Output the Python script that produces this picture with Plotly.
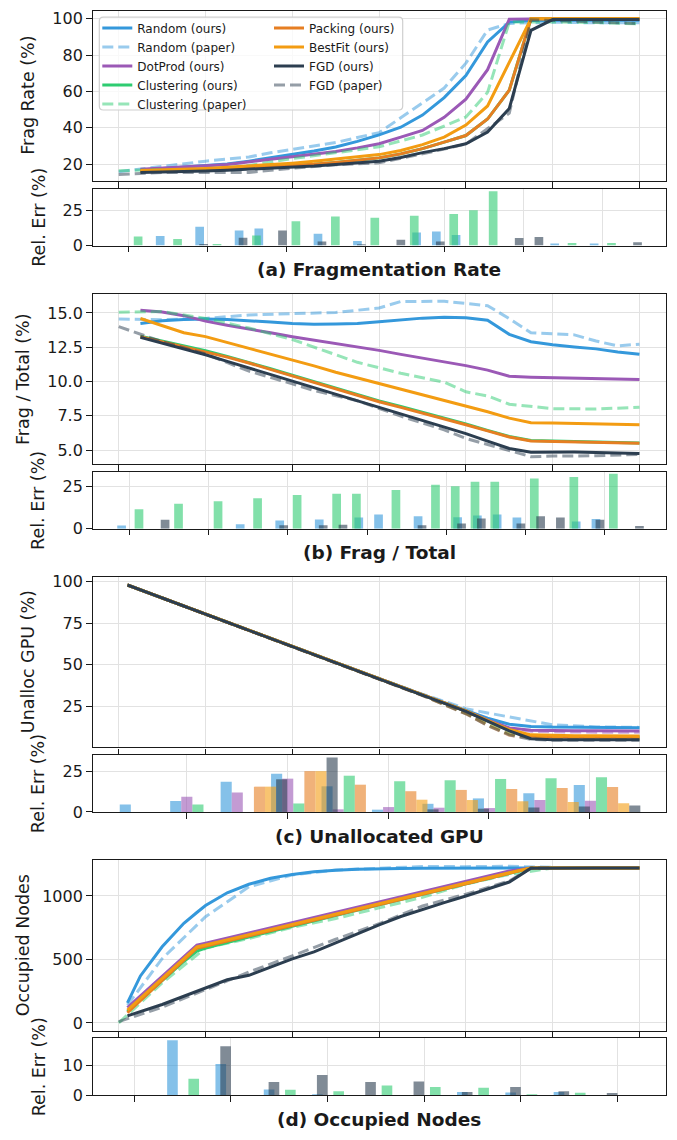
import plotly.graph_objects as go

W, H = 677, 1140
FONT = "DejaVu Sans"

STRATEGIES = ["Random", "DotProd", "Clustering", "Packing", "BestFit", "FGD"]
COLORS = {"Random": "#3498db", "DotProd": "#9b59b6", "Clustering": "#2ecc71",
          "Packing": "#e67e22", "BestFit": "#f39c12", "FGD": "#2c3e50"}

MAIN_XTICKS = [0.0, 0.2, 0.4, 0.6, 0.8, 1.0, 1.2]

# ---------------- (a) Fragmentation Rate ----------------
a_x_ours = [0.05, 0.10, 0.15, 0.20, 0.25, 0.30, 0.35, 0.40, 0.45, 0.50, 0.55, 0.60,
            0.65, 0.70, 0.75, 0.80, 0.85, 0.90, 0.95, 1.00, 1.05, 1.10, 1.15, 1.20]
a_random_ours = [16.7, 17.6, 18.4, 19.1, 20.0, 21.6, 23.4, 25.2, 27.2, 29.4, 32.5, 36.1,
                 40.3, 47.0, 56.6, 68.7, 87.3, 98.2, 99.1, 99.2, 99.3, 99.3, 99.3, 99.3]
a_dotprod_ours = [17.1, 17.6, 18.3, 19.0, 19.8, 21.0, 22.6, 24.0, 25.4, 26.9, 28.9, 31.2,
                  34.8, 38.5, 45.7, 55.7, 72.0, 99.8, 99.9, 99.9, 99.9, 99.9, 99.9, 99.9]
a_clustering_ours = [16.0, 16.2, 16.4, 16.7, 17.2, 17.8, 18.4, 19.1, 19.9, 20.9, 22.1, 23.4,
                     25.6, 28.5, 32.1, 35.7, 44.8, 60.7, 100, 100, 100, 100, 100, 100]
a_packing_ours = [16.0, 16.2, 16.4, 16.7, 17.2, 17.8, 18.4, 19.1, 19.9, 20.9, 22.1, 23.4,
                  25.6, 28.5, 32.1, 35.7, 44.8, 60.7, 100, 100, 100, 100, 100, 100]
a_bestfit_ours = [16.4, 16.7, 17.1, 17.6, 18.2, 18.9, 19.7, 20.5, 21.5, 22.7, 23.9, 25.2,
                  27.5, 30.7, 34.8, 41.5, 52.0, 75.6, 100, 100, 100, 100, 100, 100]
a_fgd_ours = [15.3, 15.5, 15.8, 16.2, 16.6, 17.1, 17.6, 18.2, 18.9, 19.8, 20.6, 21.6,
              23.6, 26.3, 28.5, 31.2, 37.6, 50.6, 93.7, 99.6, 99.7, 99.7, 99.7, 99.7]

a_random_paper_x = [0, 0.1, 0.2, 0.3, 0.35, 0.5, 0.6, 0.75, 0.8, 0.85, 0.9, 1.0, 1.1, 1.2]
a_random_paper = [15.8, 18.8, 21.6, 23.9, 26.2, 31.9, 37.3, 61.9, 75.6, 93.8, 97.5, 98.2, 97.8, 97.9]
a_clustering_paper_x = [0, 0.1, 0.2, 0.3, 0.4, 0.5, 0.6, 0.7, 0.8, 0.85, 0.9, 1.0, 1.1, 1.2]
a_clustering_paper = [16.3, 17.0, 16.9, 19.2, 23.0, 26.3, 29.5, 36.0, 45.9, 59.5, 98.2, 98.3, 98.0, 97.2]
a_fgd_paper_x = [0, 0.1, 0.2, 0.3, 0.4, 0.5, 0.6, 0.7, 0.8, 0.9, 0.95, 1.0, 1.1, 1.2]
a_fgd_paper = [14.3, 15.3, 15.3, 15.4, 17.7, 19.6, 20.7, 25.6, 31.0, 48.0, 99.5, 99.0, 98.4, 97.4]

a_err_random_x = [0.1, 0.2, 0.3, 0.35, 0.5, 0.6, 0.75, 0.8, 0.85, 1.1, 1.2]
a_err_random = [6.8, 13.3, 10.7, 12.1, 8.4, 3.3, 9.3, 10.0, 7.5, 1.4, 1.4]
a_err_clustering_x = [0, 0.1, 0.2, 0.3, 0.4, 0.5, 0.6, 0.7, 0.8, 0.85, 0.9, 1.1, 1.2]
a_err_clustering = [6.5, 4.7, 1.2, 7.2, 17.1, 20.6, 19.6, 21.0, 22.2, 25.0, 38.3, 1.9, 1.9]
a_err_fgd_x = [0.1, 0.2, 0.3, 0.4, 0.5, 0.6, 0.7, 0.9, 0.95, 1.2]
a_err_fgd = [1.2, 5.6, 10.7, 2.8, 0.9, 4.2, 2.8, 5.4, 6.1, 2.3]

# ---------------- (b) Frag / Total ----------------
b_x_ours = a_x_ours
b_random_ours = [14.23, 14.42, 14.52, 14.55, 14.52, 14.45, 14.33, 14.22, 14.18, 14.20, 14.23, 14.35,
                 14.50, 14.62, 14.68, 14.64, 14.47, 13.44, 12.90, 12.68, 12.52, 12.38, 12.15, 11.98]
b_dotprod_ours = [15.19, 15.07, 14.80, 14.40, 14.10, 13.85, 13.55, 13.27, 13.03, 12.80, 12.53, 12.27,
                  11.98, 11.71, 11.44, 11.16, 10.83, 10.38, 10.32, 10.28, 10.25, 10.21, 10.18, 10.14]
b_clustering_ours = [13.30, 12.95, 12.60, 12.25, 11.83, 11.40, 10.93, 10.46, 9.98, 9.50, 9.04, 8.59,
                     8.18, 7.77, 7.33, 6.90, 6.44, 6.00, 5.70, 5.66, 5.62, 5.59, 5.55, 5.52]
b_packing_ours = [13.27, 12.90, 12.55, 12.20, 11.78, 11.35, 10.88, 10.40, 9.92, 9.44, 8.98, 8.53,
                  8.12, 7.71, 7.28, 6.85, 6.40, 5.96, 5.67, 5.64, 5.60, 5.57, 5.53, 5.50]
b_bestfit_ours = [14.59, 14.05, 13.56, 13.27, 12.85, 12.43, 12.00, 11.60, 11.14, 10.68, 10.27, 9.87,
                  9.48, 9.08, 8.66, 8.24, 7.80, 7.33, 7.00, 6.98, 6.95, 6.92, 6.88, 6.85]
b_fgd_ours = [13.22, 12.80, 12.38, 11.95, 11.47, 10.99, 10.52, 10.04, 9.56, 9.08, 8.60, 8.12,
              7.64, 7.16, 6.68, 6.20, 5.66, 5.12, 4.85, 4.87, 4.86, 4.83, 4.80, 4.76]

b_random_paper_x = [0, 0.1, 0.2, 0.3, 0.4, 0.5, 0.6, 0.65, 0.75, 0.85, 0.9, 0.95, 1.05, 1.1, 1.15, 1.2]
b_random_paper = [14.55, 14.50, 14.60, 14.85, 14.95, 15.03, 15.36, 15.83, 15.85, 15.53, 14.58, 13.55,
                  13.40, 12.95, 12.60, 12.72]
b_clustering_paper_x = [0, 0.1, 0.2, 0.3, 0.4, 0.5, 0.55, 0.65, 0.75, 0.8, 0.85, 0.9, 1.0, 1.1, 1.2]
b_clustering_paper = [15.05, 15.10, 14.60, 13.90, 13.06, 11.98, 11.40, 10.60, 9.95, 9.25, 8.95, 8.35,
                      8.02, 8.00, 8.12]
b_fgd_paper_x = [0, 0.1, 0.2, 0.3, 0.4, 0.45, 0.55, 0.65, 0.75, 0.8, 0.9, 0.95, 1.0, 1.1, 1.2]
b_fgd_paper = [14.0, 12.9, 12.0, 10.76, 9.83, 9.35, 8.6, 7.48, 6.48, 5.85, 4.97, 4.52, 4.57, 4.59, 4.69]

b_err_random_x = [0, 0.3, 0.4, 0.5, 0.6, 0.65, 0.75, 0.85, 0.9, 0.95, 1.0, 1.15, 1.2]
b_err_random = [2.0, 2.7, 4.9, 5.5, 6.6, 8.4, 7.4, 6.8, 7.8, 8.4, 6.6, 4.3, 5.7]
b_err_clustering_x = [0, 0.1, 0.2, 0.3, 0.4, 0.5, 0.55, 0.65, 0.75, 0.8, 0.85, 0.9, 1.0, 1.1, 1.2]
b_err_clustering = [11.5, 14.8, 16.2, 18.0, 19.9, 20.7, 20.7, 22.9, 26.0, 25.0, 27.7, 27.7, 29.7, 30.5, 32.4]
b_err_fgd_x = [0, 0.3, 0.4, 0.45, 0.65, 0.75, 0.8, 0.9, 0.95, 1.0, 1.1, 1.2]
b_err_fgd = [5.3, 2.1, 2.1, 2.3, 2.1, 3.1, 6.0, 3.1, 7.4, 6.6, 5.3, 1.6]

# ---------------- (c) Unallocated GPU ----------------
c_x_ours = [0.02, 0.1, 0.2, 0.3, 0.4, 0.5, 0.6, 0.7, 0.8, 0.85, 0.9, 0.95, 1.0, 1.05, 1.1, 1.15, 1.2]
c_random_ours = [98.1, 90.3, 80.5, 70.8, 61.1, 51.4, 41.7, 32.0, 22.6, 17.8, 14.2, 12.9, 12.5, 12.3, 12.2, 12.2, 12.1]
c_dotprod_ours = [98.1, 90.3, 80.5, 70.8, 61.1, 51.4, 41.6, 31.9, 22.3, 16.8, 12.0, 10.6, 10.3, 10.2, 10.2, 10.1, 10.1]
c_clustering_ours = [98.1, 90.3, 80.5, 70.8, 61.1, 51.4, 41.6, 31.9, 22.1, 16.4, 10.8, 7.2, 6.8, 6.7, 6.7, 6.6, 6.6]
c_packing_ours = [98.1, 90.3, 80.5, 70.8, 61.1, 51.4, 41.6, 31.9, 22.1, 16.3, 10.6, 7.0, 6.5, 6.4, 6.4, 6.3, 6.3]
c_bestfit_ours = [98.1, 90.3, 80.5, 70.8, 61.1, 51.4, 41.6, 31.9, 22.2, 16.5, 11.0, 7.8, 7.3, 7.2, 7.2, 7.1, 7.1]
c_fgd_ours = [98.1, 90.3, 80.5, 70.8, 61.1, 51.4, 41.6, 31.9, 22.0, 16.0, 10.2, 5.5, 4.9, 4.8, 4.8, 4.8, 4.8]

c_x_paper = [0.1, 0.2, 0.3, 0.4, 0.5, 0.6, 0.7, 0.8, 0.85, 0.9, 0.95, 1.0, 1.1, 1.2]
c_random_paper = [90.3, 80.5, 70.8, 61.1, 51.4, 41.7, 32.3, 23.6, 21.0, 18.5, 16.0, 13.8, 12.6, 12.3]
c_dotprod_paper = [90.3, 80.5, 70.8, 61.1, 51.4, 41.6, 31.9, 22.0, 16.2, 11.6, 10.0, 9.6, 9.4, 9.3]
c_clustering_paper = [90.3, 80.5, 70.8, 61.1, 51.4, 41.6, 31.9, 21.0, 14.5, 8.5, 6.0, 5.6, 5.5, 5.4]
c_packing_paper = [90.3, 80.5, 70.8, 61.1, 51.4, 41.6, 31.6, 20.5, 13.5, 7.5, 5.9, 5.7, 5.6, 5.6]
c_bestfit_paper = [90.3, 80.5, 70.8, 61.1, 51.4, 41.6, 31.7, 20.8, 14.0, 8.3, 6.8, 6.7, 6.6, 6.6]
c_fgd_paper = [90.3, 80.5, 70.8, 61.1, 51.4, 41.6, 31.5, 20.5, 13.5, 7.8, 5.0, 4.6, 4.5, 4.5]

c_err_random_x = [0.1, 0.2, 0.3, 0.4, 0.5, 0.6, 0.7, 0.8, 0.9, 1.0]
c_err_random = [4.6, 6.7, 18.5, 23.4, 15.7, 1.4, 5.0, 8.3, 11.5, 16.5]
c_err_dotprod_x = [0.2, 0.3, 0.4, 0.5, 0.6, 0.7, 0.8, 0.9, 1.0]
c_err_dotprod = [9.3, 11.9, 20.4, 1.6, 3.0, 2.6, 2.4, 7.3, 6.9]
c_err_clustering_x = [0.2, 0.4, 0.5, 0.6, 0.7, 0.8, 0.9, 1.0]
c_err_clustering = [4.6, 5.2, 22.2, 18.8, 19.4, 20.2, 20.6, 21.2]
c_err_packing_x = [0.3, 0.4, 0.5, 0.6, 0.7, 0.8, 0.9, 1.0]
c_err_packing = [15.5, 25.0, 16.7, 12.7, 13.5, 14.1, 14.7, 15.3]
c_err_bestfit_x = [0.3, 0.4, 0.6, 0.7, 0.8, 0.9, 1.0]
c_err_bestfit = [15.5, 25.0, 7.5, 7.3, 6.6, 6.1, 5.4]
c_err_fgd_x = [0.3, 0.4, 0.6, 0.7, 0.8, 0.9, 1.0]
c_err_fgd = [20.0, 33.3, 1.6, 2.0, 2.8, 3.4, 4.0]

# ---------------- (d) Occupied Nodes ----------------
d_x_ours = [0.02, 0.05, 0.1, 0.15, 0.18, 0.2, 0.25, 0.3, 0.35, 0.4, 0.45, 0.5,
            0.55, 0.6, 0.65, 0.7, 0.75, 0.8, 0.85, 0.9, 0.95, 1.0, 1.1, 1.2]
d_random_ours = [158, 370, 600, 785, 870, 925, 1025, 1092, 1140, 1170, 1190, 1203,
                 1210, 1215, 1217, 1219, 1220, 1220, 1221, 1221, 1221, 1221, 1221, 1221]
d_dotprod_ours = [120, 212, 366, 520, 612, 628, 669, 709, 750, 790, 831, 871,
                  912, 953, 993, 1034, 1074, 1115, 1155, 1196, 1221, 1221, 1221, 1221]
d_clustering_ours = [90, 181, 333, 484, 565, 590, 634, 677, 720, 763, 806, 848,
                     890, 931, 972, 1014, 1055, 1097, 1138, 1179, 1220, 1220, 1220, 1220]
d_packing_ours = [80, 175, 334, 493, 588, 604, 645, 686, 727, 768, 809, 850,
                  891, 932, 973, 1014, 1056, 1097, 1138, 1179, 1220, 1220, 1220, 1220]
d_bestfit_ours = [100, 193, 349, 505, 598, 614, 655, 696, 736, 777, 817, 858,
                  899, 939, 980, 1020, 1061, 1102, 1143, 1183, 1221, 1221, 1221, 1221]
d_fgd_ours = [55, 90, 145, 210, 250, 274, 340, 375, 437, 505, 560, 630,
              705, 772, 838, 895, 948, 1000, 1052, 1110, 1218, 1220, 1220, 1220]

d_random_paper_x = [0.02, 0.1, 0.2, 0.3, 0.4, 0.5, 0.6, 0.7, 0.8, 0.9, 1.0]
d_random_paper = [140, 506, 836, 1072, 1166, 1205, 1218, 1232, 1231, 1234, 1225]
d_clustering_paper_x = [0, 0.1, 0.2, 0.3, 0.4, 0.5, 0.6, 0.7, 0.8, 0.9, 1.0]
d_clustering_paper = [0, 315, 590, 665, 754, 822, 906, 989, 1094, 1170, 1220]
d_fgd_paper_x = [0, 0.1, 0.2, 0.3, 0.4, 0.5, 0.6, 0.7, 0.8, 0.9, 0.95, 1.0]
d_fgd_paper = [10, 124, 262, 401, 528, 659, 781, 921, 1014, 1118, 1220, 1220]

d_err_random_x = [0.1, 0.2, 0.3, 0.4, 0.7, 0.8, 0.9]
d_err_random = [18.65, 10.6, 1.9, 0.3, 1.1, 0.9, 1.1]
d_err_clustering_x = [0.1, 0.3, 0.4, 0.5, 0.6, 0.7, 0.8, 0.9]
d_err_clustering = [5.6, 1.8, 1.35, 3.3, 2.8, 2.5, 0.3, 0.8]
d_err_fgd_x = [0.1, 0.2, 0.3, 0.4, 0.5, 0.6, 0.7, 0.8, 0.9]
d_err_fgd = [16.6, 4.5, 6.85, 4.5, 4.6, 1.1, 2.8, 1.35, 0.7]

PANELS = [
    dict(title="(a) Fragmentation Rate", ylabel="Frag Rate (%)",
         ours_x=a_x_ours,
         ours={"Random": a_random_ours, "DotProd": a_dotprod_ours, "Clustering": a_clustering_ours,
               "Packing": a_packing_ours, "BestFit": a_bestfit_ours, "FGD": a_fgd_ours},
         paper={"Random": (a_random_paper_x, a_random_paper),
                "Clustering": (a_clustering_paper_x, a_clustering_paper),
                "FGD": (a_fgd_paper_x, a_fgd_paper)},
         err={"Random": (a_err_random_x, a_err_random),
              "Clustering": (a_err_clustering_x, a_err_clustering),
              "FGD": (a_err_fgd_x, a_err_fgd)},
         yrange=[10.6, 104.6], yticks=[20, 40, 60, 80, 100], yticktext=None,
         err_xrange=[-0.092, 1.360], err_xticks=MAIN_XTICKS,
         err_yrange=[0, 40.2], err_yticks=[0, 25], ylab_x=28),
    dict(title="(b) Frag / Total", ylabel="Frag / Total (%)",
         ours_x=b_x_ours,
         ours={"Random": b_random_ours, "DotProd": b_dotprod_ours, "Clustering": b_clustering_ours,
               "Packing": b_packing_ours, "BestFit": b_bestfit_ours, "FGD": b_fgd_ours},
         paper={"Random": (b_random_paper_x, b_random_paper),
                "Clustering": (b_clustering_paper_x, b_clustering_paper),
                "FGD": (b_fgd_paper_x, b_fgd_paper)},
         err={"Random": (b_err_random_x, b_err_random),
              "Clustering": (b_err_clustering_x, b_err_clustering),
              "FGD": (b_err_fgd_x, b_err_fgd)},
         yrange=[3.97, 16.40], yticks=[5, 7.5, 10, 12.5, 15],
         yticktext=["5.0", "7.5", "10.0", "12.5", "15.0"],
         err_xrange=[-0.094, 1.355], err_xticks=MAIN_XTICKS,
         err_yrange=[0, 33.6], err_yticks=[0, 25], ylab_x=23),
    dict(title="(c) Unallocated GPU", ylabel="Unalloc GPU (%)",
         ours_x=c_x_ours,
         ours={"Random": c_random_ours, "DotProd": c_dotprod_ours, "Clustering": c_clustering_ours,
               "Packing": c_packing_ours, "BestFit": c_bestfit_ours, "FGD": c_fgd_ours},
         paper={"Random": (c_x_paper, c_random_paper), "DotProd": (c_x_paper, c_dotprod_paper),
                "Clustering": (c_x_paper, c_clustering_paper), "Packing": (c_x_paper, c_packing_paper),
                "BestFit": (c_x_paper, c_bestfit_paper), "FGD": (c_x_paper, c_fgd_paper)},
         err={"Random": (c_err_random_x, c_err_random), "DotProd": (c_err_dotprod_x, c_err_dotprod),
              "Clustering": (c_err_clustering_x, c_err_clustering),
              "Packing": (c_err_packing_x, c_err_packing),
              "BestFit": (c_err_bestfit_x, c_err_bestfit), "FGD": (c_err_fgd_x, c_err_fgd)},
         yrange=[0.2, 103.0], yticks=[25, 50, 75, 100], yticktext=None,
         err_xrange=[0.0145, 1.150], err_xticks=MAIN_XTICKS,
         err_yrange=[0, 34.9], err_yticks=[0, 25], ylab_x=28),
    dict(title="(d) Occupied Nodes", ylabel="Occupied Nodes",
         ours_x=d_x_ours,
         ours={"Random": d_random_ours, "DotProd": d_dotprod_ours, "Clustering": d_clustering_ours,
               "Packing": d_packing_ours, "BestFit": d_bestfit_ours, "FGD": d_fgd_ours},
         paper={"Random": (d_random_paper_x, d_random_paper),
                "Clustering": (d_clustering_paper_x, d_clustering_paper),
                "FGD": (d_fgd_paper_x, d_fgd_paper)},
         err={"Random": (d_err_random_x, d_err_random),
              "Clustering": (d_err_clustering_x, d_err_clustering),
              "FGD": (d_err_fgd_x, d_err_fgd)},
         yrange=[-61, 1283], yticks=[0, 500, 1000], yticktext=None,
         err_xrange=[-0.086, 1.0996], err_xticks=MAIN_XTICKS,
         err_yrange=[0, 19.4], err_yticks=[0, 10], ylab_x=23),
]

# ---------------- layout geometry (pixels) ----------------
PLOT_L, PLOT_R = 92.7, 665.5
FIRST_TOP, PERIOD = 6.6, 286.7
MAIN_H, GAP, ERR_H, TITLE_OFF = 172.7, 7.6, 57.7, 262.4
ERR_LAB_X = 38.7
BAR_W = 0.022
LINE_W = 3.0
DASH = "11px,5px"
LEG_BOX = (99.3, 13.3, 402.7, 107.3)   # left, top, right, bottom (px)
LEG_R = 4.0


def rgba(hexc, a):
    h = hexc.lstrip("#")
    r, g, b = int(h[0:2], 16), int(h[2:4], 16), int(h[4:6], 16)
    return f"rgba({r},{g},{b},{a})"


def ydom(top_px, bot_px):
    return [1 - bot_px / H, 1 - top_px / H]


def rounded_rect_path(l, t, r, b, rad):
    x0, x1 = l / W, r / W
    y0, y1 = 1 - b / H, 1 - t / H
    rx, ry = rad / W, rad / H
    return (f"M {x0 + rx},{y1} L {x1 - rx},{y1} Q {x1},{y1} {x1},{y1 - ry} "
            f"L {x1},{y0 + ry} Q {x1},{y0} {x1 - rx},{y0} L {x0 + rx},{y0} "
            f"Q {x0},{y0} {x0},{y0 + ry} L {x0},{y1 - ry} Q {x0},{y1} {x0 + rx},{y1} Z")


fig = go.Figure()
layout = dict(width=W, height=H, margin=dict(l=0, r=0, t=0, b=0),
              paper_bgcolor="white", plot_bgcolor="white", barmode="overlay",
              font=dict(family=FONT, color="#1a1a1a"), showlegend=True,
              annotations=[], shapes=[])

AX = dict(showline=True, mirror=True, linecolor="#1a1a1a", linewidth=1.3,
          ticks="outside", ticklen=5.5, tickwidth=1.3, tickcolor="#1a1a1a",
          showgrid=True, gridcolor="#e2e2e2", gridwidth=1.1, zeroline=False,
          tickfont=dict(family=FONT, size=16, color="#1a1a1a"))

xdom = [PLOT_L / W, PLOT_R / W]

for p, P in enumerate(PANELS):
    top = FIRST_TOP + p * PERIOD
    mi, ei = 2 * p + 1, 2 * p + 2
    mx, my = ("x", "y") if mi == 1 else (f"x{mi}", f"y{mi}")
    ex, ey = f"x{ei}", f"y{ei}"
    mkx = "xaxis" if mi == 1 else f"xaxis{mi}"
    mky = "yaxis" if mi == 1 else f"yaxis{mi}"

    layout[mkx] = dict(AX, domain=xdom, anchor=my, range=[-0.06, 1.26],
                       tickvals=MAIN_XTICKS, showticklabels=False)
    layout[mky] = dict(AX, domain=ydom(top, top + MAIN_H), anchor=mx, range=P["yrange"],
                       tickvals=P["yticks"],
                       ticktext=P["yticktext"] if P["yticktext"] else None)
    etop = top + MAIN_H + GAP
    layout[f"xaxis{ei}"] = dict(AX, domain=xdom, anchor=ey, range=P["err_xrange"],
                                tickvals=P["err_xticks"], showticklabels=False)
    layout[f"yaxis{ei}"] = dict(AX, domain=ydom(etop, etop + ERR_H), anchor=ex,
                                range=P["err_yrange"], tickvals=P["err_yticks"])

    # lines
    for s in STRATEGIES:
        col = COLORS[s]
        leg = "legend" if s in ("Random", "DotProd", "Clustering") else "legend2"
        fig.add_trace(go.Scatter(x=P["ours_x"], y=P["ours"][s], mode="lines",
                                 name=f"{s} (ours)", line=dict(color=col, width=LINE_W),
                                 xaxis=mx, yaxis=my, showlegend=(p == 0), legend=leg,
                                 hoverinfo="skip"))
        if s in P["paper"]:
            px_, py_ = P["paper"][s]
            fig.add_trace(go.Scatter(x=px_, y=py_, mode="lines", name=f"{s} (paper)",
                                     line=dict(color=rgba(col, 0.5), width=LINE_W, dash=DASH),
                                     xaxis=mx, yaxis=my, showlegend=(p == 0), legend=leg,
                                     hoverinfo="skip"))
    # error bars
    for k, s in enumerate(STRATEGIES):
        if s not in P["err"]:
            continue
        bx, by = P["err"][s]
        fig.add_trace(go.Bar(x=bx, y=by, width=BAR_W,
                             offset=(k - 0.95) * BAR_W - BAR_W / 2,
                             marker=dict(color=rgba(COLORS[s], 0.6), line=dict(width=0)),
                             xaxis=ex, yaxis=ey, showlegend=False, hoverinfo="skip"))

    # labels & titles
    layout["annotations"].append(dict(
        text=P["ylabel"], xref="paper", yref="paper", x=P["ylab_x"] / W,
        y=1 - (top + MAIN_H / 2) / H, textangle=-90, showarrow=False,
        xanchor="center", yanchor="middle", font=dict(size=17.5, family=FONT, color="#1a1a1a")))
    layout["annotations"].append(dict(
        text="Rel. Err (%)", xref="paper", yref="paper", x=ERR_LAB_X / W,
        y=1 - (etop + ERR_H / 2) / H, textangle=-90, showarrow=False,
        xanchor="center", yanchor="middle", font=dict(size=17.5, family=FONT, color="#1a1a1a")))
    layout["annotations"].append(dict(
        text=f"<b>{P['title']}</b>", xref="paper", yref="paper",
        x=(PLOT_L + PLOT_R) / 2 / W, y=1 - (top + TITLE_OFF) / H, showarrow=False,
        xanchor="center", yanchor="middle", font=dict(size=18.5, family=FONT, color="#1a1a1a")))

# legend frame (rounded, semi-opaque like matplotlib's default frame)
layout["shapes"].append(dict(type="path", xref="paper", yref="paper", layer="above",
                             path=rounded_rect_path(*LEG_BOX, LEG_R),
                             line=dict(color="#cfcfcf", width=1.2),
                             fillcolor="rgba(255,255,255,0.8)"))
LEG = dict(bgcolor="rgba(0,0,0,0)", borderwidth=0, xanchor="left", yanchor="top",
           font=dict(family=FONT, size=12, color="#1a1a1a"), tracegroupgap=0)
layout["legend"] = dict(LEG, x=97.3 / W, y=1 - 9.5 / H)
layout["legend2"] = dict(LEG, x=269 / W, y=1 - 9.5 / H)

fig.update_layout(**layout)
fig.write_html("out.html")
